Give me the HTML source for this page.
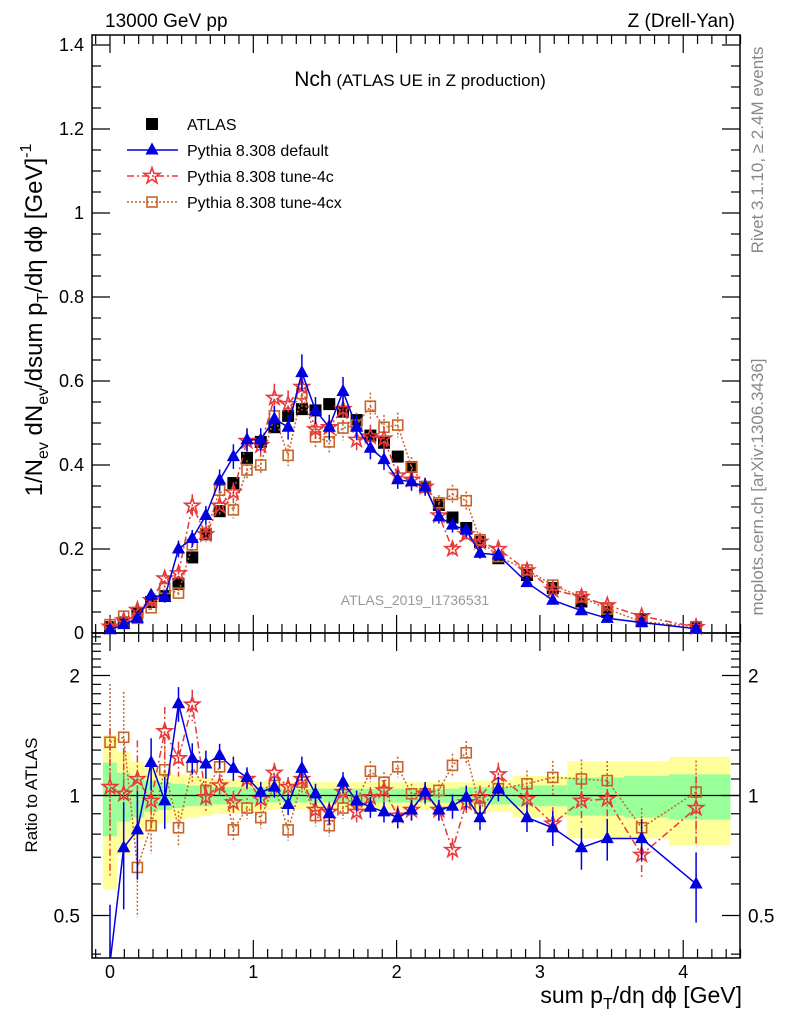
<!DOCTYPE html>
<html><head><meta charset="utf-8">
<style>
body{margin:0;background:#fff;}
svg{display:block;font-family:"Liberation Sans",sans-serif;}
</style></head>
<body>
<svg id="chart" width="786" height="1024" viewBox="0 0 786 1024" xmlns="http://www.w3.org/2000/svg">
<rect x="0" y="0" width="786" height="1024" fill="#fff"/>
<g id="bands"></g>
<g id="grid"></g>
<g id="series"></g>
<text x="105" y="27" font-size="19">13000 GeV pp</text>
<text x="735" y="27" font-size="19" text-anchor="end">Z (Drell-Yan)</text>
<text x="420" y="86" text-anchor="middle"><tspan font-size="21">Nch</tspan><tspan font-size="17"> (ATLAS UE in Z production)</tspan></text>
<text x="415" y="605" font-size="14" fill="#999" text-anchor="middle">ATLAS_2019_I1736531</text>
<text transform="translate(763,150) rotate(-90)" font-size="17" fill="#888" text-anchor="middle">Rivet 3.1.10, ≥ 2.4M events</text>
<text transform="translate(763,487) rotate(-90)" font-size="17" fill="#888" text-anchor="middle">mcplots.cern.ch [arXiv:1306.3436]</text>
<text transform="translate(42,320) rotate(-90)" font-size="24" text-anchor="middle">1/N<tspan font-size="16" dy="6">ev</tspan><tspan dy="-6"> dN</tspan><tspan font-size="16" dy="6">ev</tspan><tspan dy="-6">/dsum p</tspan><tspan font-size="16" dy="6">T</tspan><tspan dy="-6">/dη dϕ  [GeV]</tspan><tspan font-size="16" dy="-11">-1</tspan></text>
<text transform="translate(37,795) rotate(-90)" font-size="17" text-anchor="middle">Ratio to ATLAS</text>
<text x="742" y="1003" font-size="23" text-anchor="end">sum p<tspan font-size="16" dy="6">T</tspan><tspan dy="-6">/dη dϕ [GeV]</tspan></text>
<g id="legend"></g>
</svg>
<script>
const xCenters=[0,0.0956,0.191,0.287,0.382,0.478,0.574,0.669,0.765,0.861,0.956,1.052,1.147,1.243,1.339,1.434,1.53,1.626,1.721,1.817,1.912,2.008,2.104,2.199,2.295,2.39,2.486,2.582,2.71,2.91,3.09,3.29,3.47,3.71,4.09];
const dataVals=[0.014,0.025,0.048,0.074,0.088,0.117,0.18,0.235,0.29,0.357,0.417,0.455,0.49,0.517,0.533,0.53,0.545,0.527,0.507,0.47,0.453,0.42,0.395,0.348,0.305,0.275,0.25,0.217,0.178,0.138,0.107,0.075,0.05,0.033,0.014];
const defVals=[0.008,0.02,0.035,0.09,0.085,0.2,0.225,0.28,0.364,0.42,0.46,0.46,0.51,0.49,0.62,0.53,0.49,0.575,0.49,0.44,0.413,0.365,0.36,0.348,0.277,0.257,0.245,0.19,0.186,0.12,0.078,0.053,0.035,0.025,0.01];
const t4cVals=[0.015,0.03,0.055,0.078,0.13,0.142,0.303,0.235,0.303,0.335,0.457,0.447,0.56,0.545,0.586,0.485,0.49,0.533,0.46,0.468,0.463,0.375,0.365,0.348,0.28,0.2,0.235,0.217,0.2,0.149,0.103,0.086,0.066,0.04,0.014];
const t4cxVals=[0.02,0.04,0.035,0.06,0.106,0.095,0.21,0.237,0.34,0.293,0.388,0.4,0.517,0.423,0.57,0.467,0.455,0.488,0.495,0.54,0.49,0.495,0.395,0.348,0.31,0.33,0.315,0.222,0.182,0.15,0.114,0.086,0.057,0.027,0.015];
const defRatio=[0.38,0.74,0.82,1.21,0.97,1.70,1.24,1.20,1.26,1.17,1.11,1.02,1.05,0.95,1.17,1.01,0.90,1.08,0.97,0.935,0.91,0.88,0.92,1.02,0.92,0.94,0.99,0.88,1.04,0.88,0.83,0.74,0.78,0.78,0.60];
const t4cRatio=[1.05,1.01,1.10,0.97,1.45,1.24,1.69,0.99,1.06,0.96,1.10,0.98,1.14,1.05,1.10,0.92,0.91,1.02,0.91,0.99,1.03,0.89,0.92,1.01,0.92,0.73,0.96,0.99,1.13,0.98,0.85,0.97,0.98,0.71,0.93];
const t4cxRatio=[1.36,1.40,0.66,0.84,1.16,0.83,1.18,1.03,1.18,0.82,0.93,0.88,1.06,0.82,1.08,0.89,0.84,0.93,0.97,1.15,1.08,1.18,1.01,1.01,1.03,1.19,1.28,0.93,1.04,1.07,1.11,1.10,1.09,0.83,1.02];
const mcErr=[0.4,0.3,0.25,0.15,0.15,0.1,0.09,0.08,0.07,0.07,0.06,0.06,0.06,0.06,0.07,0.06,0.06,0.06,0.06,0.06,0.06,0.06,0.06,0.06,0.06,0.07,0.07,0.07,0.07,0.08,0.1,0.12,0.12,0.12,0.2];
const bandTotal=[0.42,0.29,0.22,0.18,0.15,0.13,0.12,0.11,0.1,0.1,0.09,0.09,0.08,0.08,0.08,0.08,0.08,0.08,0.08,0.08,0.08,0.08,0.08,0.08,0.08,0.08,0.08,0.09,0.09,0.12,0.12,0.22,0.22,0.22,0.25];
const bandStat=[0.21,0.14,0.12,0.09,0.08,0.07,0.06,0.06,0.05,0.05,0.05,0.05,0.04,0.04,0.04,0.04,0.04,0.04,0.04,0.04,0.04,0.04,0.04,0.04,0.04,0.04,0.05,0.05,0.05,0.06,0.06,0.11,0.11,0.12,0.13];
const mainTicks=["0","0.2","0.4","0.6","0.8","1","1.2","1.4"];
const mainTickVals=[0,0.2,0.4,0.6,0.8,1,1.2,1.4];
const xTicks=[0,1,2,3,4];
const ratioTicks=[0.5,1,2];

const NS="http://www.w3.org/2000/svg";
const L=92,R=740,T=35,M=633,B=958;
const X=v=>110+v*143.3;
const Y=v=>633-v*420;
const RY=r=>795.5-120*Math.log2(r);
function mk(tag,attrs,parent){const e=document.createElementNS(NS,tag);for(const k in attrs)e.setAttribute(k,attrs[k]);parent.appendChild(e);return e;}
const grid=document.getElementById('grid'),ser=document.getElementById('series'),bands=document.getElementById('bands'),leg=document.getElementById('legend');

const edges=[-0.05];
for(let i=0;i<xCenters.length-1;i++)edges.push((xCenters[i]+xCenters[i+1])/2);
edges.push(4.33);
for(let i=0;i<xCenters.length;i++){
  const y=mk('rect',{x:X(edges[i]),width:X(edges[i+1])-X(edges[i]),y:RY(1+bandTotal[i]),height:RY(1-bandTotal[i])-RY(1+bandTotal[i]),fill:'#ffff99'},bands);
  
  
}
for(let i=0;i<xCenters.length;i++){
  const g=mk('rect',{x:X(edges[i]),width:X(edges[i+1])-X(edges[i]),y:RY(1+bandStat[i]),height:RY(1-bandStat[i])-RY(1+bandStat[i]),fill:'#99ff99'},bands);
  
  
}
const f1=mk('rect',{x:L,y:T,width:R-L,height:M-T,fill:'none',stroke:'#000','stroke-width':1.5},grid);


const f2=mk('rect',{x:L,y:M,width:R-L,height:B-M,fill:'none',stroke:'#000','stroke-width':1.5},grid);


const one=mk('line',{x1:L,x2:R,y1:RY(1),y2:RY(1),stroke:'#000','stroke-width':1.2},grid);


for(let v=-0.1;v<=4.41;v+=0.1){
  const vv=Math.round(v*10)/10;const maj=Math.abs(vv-Math.round(vv))<1e-6;const len=maj?18:9;const x=X(vv);
  [[M,M-len],[T,T+len],[B,B-len],[M,M+len]].forEach(p=>{const t=mk('line',{x1:x,x2:x,y1:p[0],y2:p[1],stroke:'#000','stroke-width':1.2},grid);});
}
xTicks.forEach(v=>{const t=mk('text',{x:X(v),y:978,'font-size':18,'text-anchor':'middle'},grid);t.textContent=v;});
for(let v=0;v<=1.42;v+=0.05){
  const vv=Math.round(v*100)/100;const maj=Math.abs(vv*5-Math.round(vv*5))<1e-6;const len=maj?18:9;const y=Y(vv);
  [[L,L+len],[R,R-len]].forEach(p=>{const t=mk('line',{x1:p[0],x2:p[1],y1:y,y2:y,stroke:'#000','stroke-width':1.2},grid);});
}
mainTicks.forEach((s,i)=>{const t=mk('text',{x:84,y:Y(mainTickVals[i])+6,'font-size':18,'text-anchor':'end'},grid);t.textContent=s;});
const rmin=[0.4,0.5,0.6,0.7,0.8,0.9,1,1.1,1.2,1.3,1.4,1.5,1.6,1.7,1.8,1.9,2,2.1,2.2,2.3,2.4,2.5];
rmin.forEach(r=>{const maj=ratioTicks.includes(r);const len=maj?18:9;const y=RY(r);
  [[L,L+len],[R,R-len]].forEach(p=>{const t=mk('line',{x1:p[0],x2:p[1],y1:y,y2:y,stroke:'#000','stroke-width':1.2},grid);});});
ratioTicks.forEach(r=>{
  const t=mk('text',{x:80,y:RY(r)+7,'font-size':19,'text-anchor':'end'},grid);t.textContent=r;
  const t2=mk('text',{x:748,y:RY(r)+7,'font-size':19},grid);t2.textContent=r;
});

function marker(type,x,y,color,parent,s){
  let e;
  if(type==='sq'){e=mk('rect',{x:x-s/2,y:y-s/2,width:s,height:s,fill:color},parent);}
  else if(type==='osq'){e=mk('rect',{x:x-s/2+1,y:y-s/2+1,width:s-2,height:s-2,fill:'none',stroke:color,'stroke-width':1.6},parent);}
  else if(type==='tri'){e=mk('polygon',{points:`${x},${y-s*0.62} ${x-s*0.55},${y+s*0.38} ${x+s*0.55},${y+s*0.38}`,fill:color},parent);}
  else {let pts=[];for(let k=0;k<10;k++){const a=-Math.PI/2+k*Math.PI/5;const rr=k%2?s*0.22:s*0.56;pts.push((x+rr*Math.cos(a)).toFixed(1)+','+(y+rr*Math.sin(a)).toFixed(1));}
    e=mk('polygon',{points:pts.join(' '),fill:'none',stroke:color,'stroke-width':1.6},parent);}
  return e;
}
const clipR=mk('clipPath',{id:'cr'},document.getElementById('chart'));mk('rect',{x:L,y:M,width:R-L,height:B-M},clipR);
function drawSeries(vals,ratio,color,dash,mtype,name,size,withErr){
  const g=mk('g',{},ser);
  const gr=mk('g',{'clip-path':'url(#cr)'},ser);
  if(dash!==null){
    const p=vals.map((v,i)=>X(xCenters[i]).toFixed(1)+','+Y(v).toFixed(1)).join(' ');
    const l=mk('polyline',{points:p,fill:'none',stroke:color,'stroke-width':1.5,'stroke-dasharray':dash},g);
    const pr=ratio.map((v,i)=>X(xCenters[i]).toFixed(1)+','+RY(v).toFixed(1)).join(' ');
    const l2=mk('polyline',{points:pr,fill:'none',stroke:color,'stroke-width':1.5,'stroke-dasharray':dash},gr);
  }
  vals.forEach((v,i)=>{
    const x=X(xCenters[i]);
    if(withErr){const e=v*mcErr[i];const eb=mk('line',{x1:x,x2:x,y1:Y(v+e),y2:Y(Math.max(0,v-e)),stroke:color,'stroke-width':1.5,'stroke-dasharray':dash||''},g);
      const r=ratio[i];const er=r*mcErr[i];const eb2=mk('line',{x1:x,x2:x,y1:RY(r+er),y2:RY(Math.max(0.2,r-er)),stroke:color,'stroke-width':1.5,'stroke-dasharray':dash||''},gr);}
    const m=marker(mtype,x,Y(v),color,g,size);
    if(ratio){const m2=marker(mtype,x,RY(ratio[i]),color,gr,size);}
  });
}
drawSeries(dataVals,null,'#000',null,'sq','atlas-data',12,false);
drawSeries(t4cxVals,t4cxRatio,'#c8642a','2,2','osq','tune-4cx',12,true);
drawSeries(t4cVals,t4cRatio,'#e8383a','7,3,2,3','star','tune-4c',14,true);
drawSeries(defVals,defRatio,'#0000e0','','tri','default',12,true);

const legItems=[['ATLAS','#000',null,'sq',12],['Pythia 8.308 default','#0000e0','','tri',12],['Pythia 8.308 tune-4c','#e8383a','7,3,2,3','star',15],['Pythia 8.308 tune-4cx','#c8642a','2,2','osq',12]];
legItems.forEach((it,i)=>{const y=124+i*26;
  const g=mk('g',{},leg);
  if(it[2]!==null){mk('line',{x1:127,x2:178,y1:y,y2:y,stroke:it[1],'stroke-width':1.5,'stroke-dasharray':it[2]},g);}
  marker(it[3],152,y,it[1],g,it[4]);
  const t=mk('text',{x:187,y:y+6,'font-size':16},g);t.textContent=it[0];
});
</script>
</body></html>
